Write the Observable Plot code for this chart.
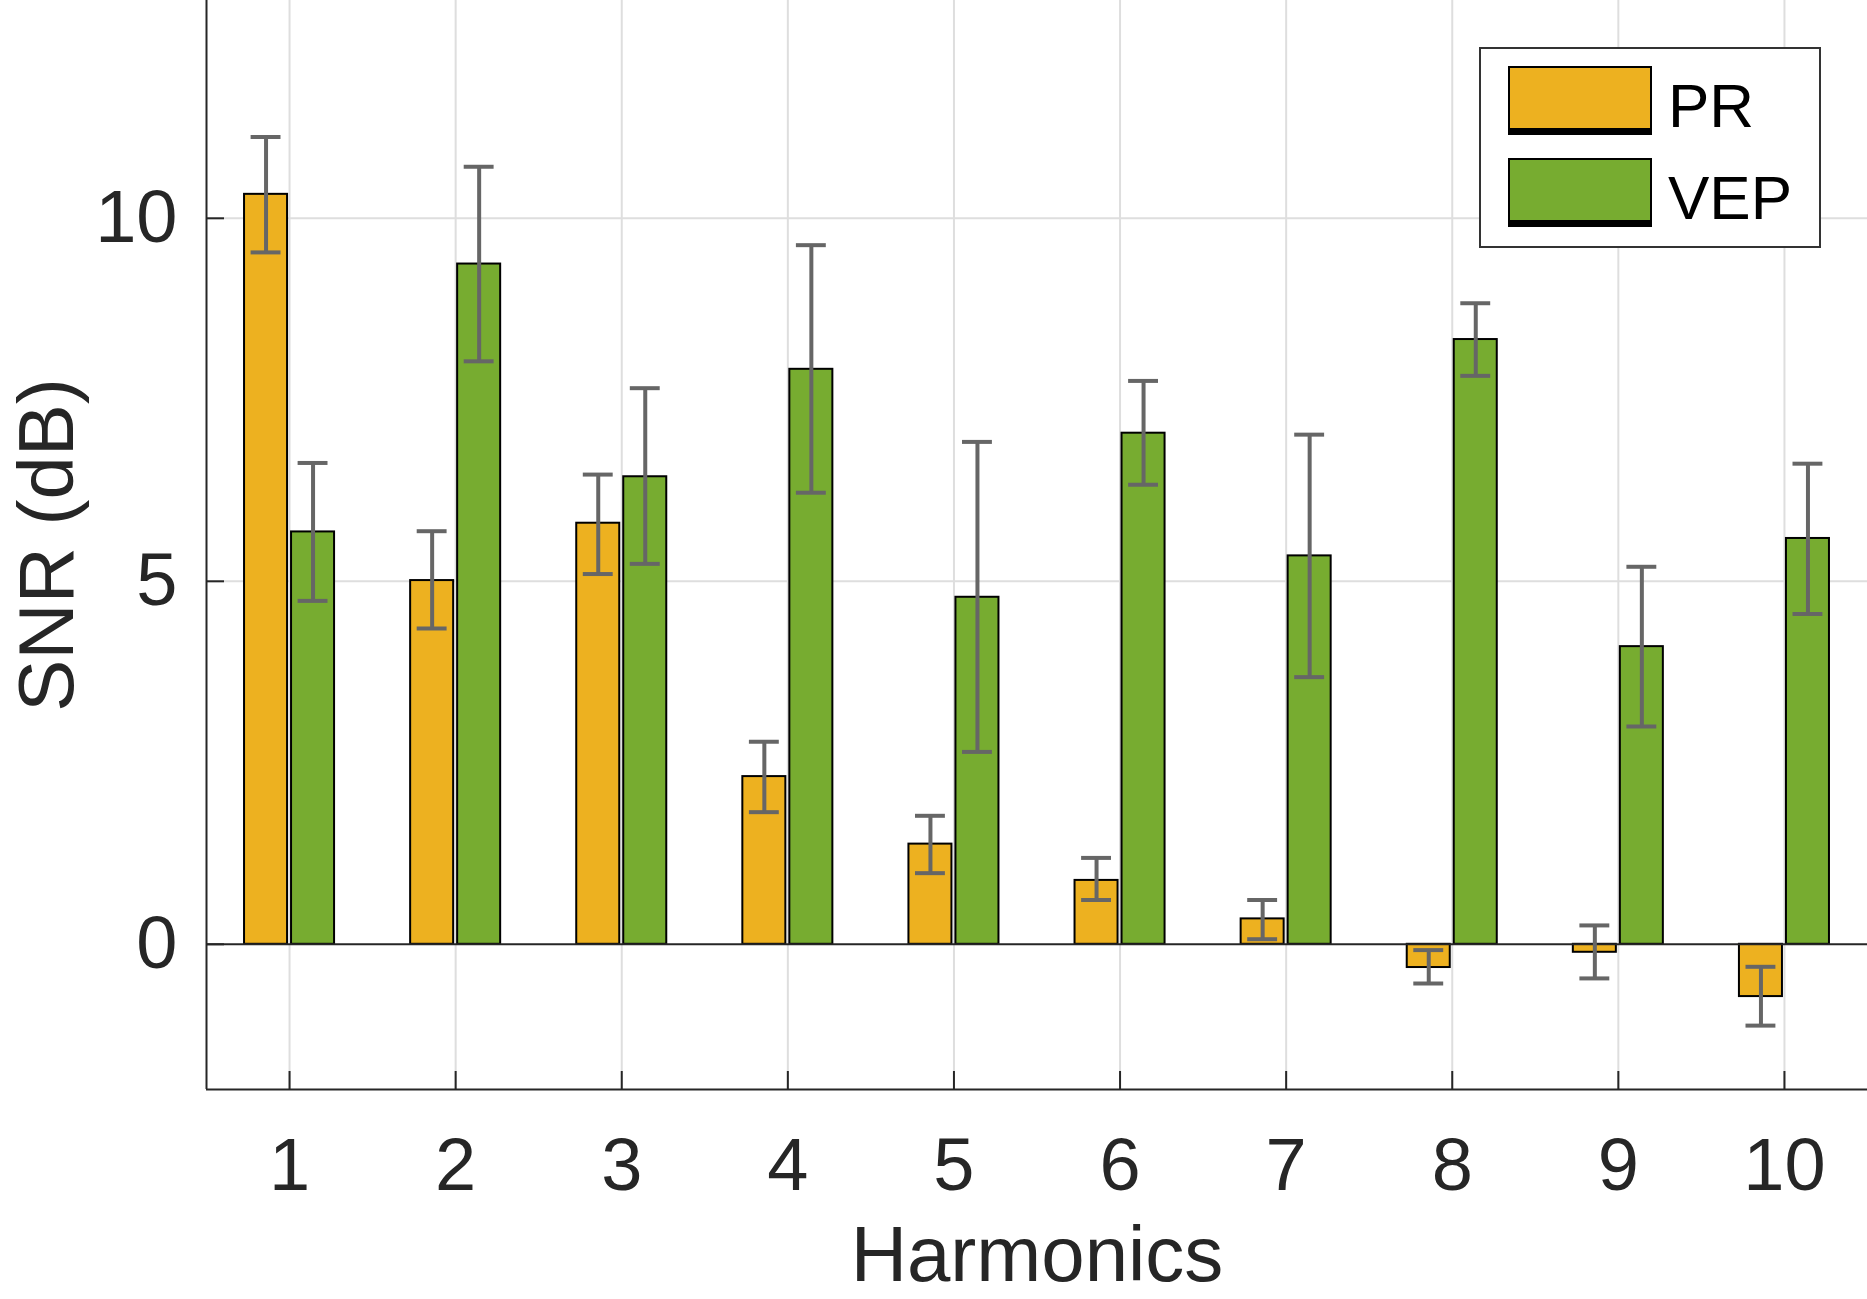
<!DOCTYPE html>
<html>
<head>
<meta charset="utf-8">
<script src="https://cdn.jsdelivr.net/npm/d3@7"></script>
<script src="https://cdn.jsdelivr.net/npm/@observablehq/plot@0.6"></script>
<style>
  html, body { margin: 0; padding: 0; background: #fff; }
  #wrap { position: relative; width: 1867px; height: 1299px; overflow: hidden;
          font-family: "Liberation Sans", Arial, Helvetica, sans-serif; }
  #legend { position: absolute; left: 1479px; top: 47px; }
</style>
</head>
<body>
<div id="wrap"></div>
<script>
// ---- data ----
const harmonics = [1, 2, 3, 4, 5, 6, 7, 8, 9, 10];
const seriesNames = ["PR", "VEP"];
const seriesColors = ["#EDB120", "#77AC30"];
const prMean = [10.33, 5.01, 5.80, 2.31, 1.38, 0.88, 0.35, -0.32, -0.11, -0.72];
const prLow  = [9.53, 4.35, 5.10, 1.82, 0.98, 0.61, 0.07, -0.54, -0.47, -1.12];
const prHigh = [11.12, 5.69, 6.47, 2.79, 1.77, 1.19, 0.61, -0.08, 0.26, -0.31];
const vepMean = [5.68, 9.37, 6.44, 7.92, 4.78, 7.04, 5.35, 8.33, 4.10, 5.59];
const vepLow  = [4.73, 8.03, 5.24, 6.22, 2.65, 6.33, 3.68, 7.83, 3.00, 4.55];
const vepHigh = [6.63, 10.71, 7.66, 9.63, 6.92, 7.76, 7.02, 8.83, 5.20, 6.62];
const yTicks = [0, 5, 10];
const yGrid = [5, 10];
const xLabel = "Harmonics";
const yLabel = "SNR (dB)";

// ---- table built from arrays ----
const rows = [];
harmonics.forEach((h, i) => {
  rows.push({h, series: "PR", mean: prMean[i], lo: prLow[i], hi: prHigh[i], side: -1});
  rows.push({h, series: "VEP", mean: vepMean[i], lo: vepLow[i], hi: vepHigh[i], side: 1});
});
const gap = 0.012, bw = 0.259, cap = 0.09;
const left = d => d.side < 0 ? d.h - gap - bw : d.h + gap;
const right = d => d.side < 0 ? d.h - gap : d.h + gap + bw;
const center = d => (left(d) + right(d)) / 2;

const ink = "#262626";
const errColor = "#666666";
const gridColor = "#dedede";
const fmt = d3.format("d");

const chart = Plot.plot({
  width: 1867,
  height: 1299,
  marginLeft: 206,
  marginRight: 0,
  marginTop: 0,
  marginBottom: 210,
  style: {fontFamily: "'Liberation Sans', Arial, Helvetica, sans-serif", background: "#fff", overflow: "visible"},
  x: {domain: [0.5, 10.5]},
  y: {domain: [-2, 13]},
  color: {domain: seriesNames, range: seriesColors},
  marks: [
    Plot.gridX(harmonics, {stroke: gridColor, strokeOpacity: 1, strokeWidth: 2}),
    Plot.gridY(yGrid, {stroke: gridColor, strokeOpacity: 1, strokeWidth: 2}),
    Plot.rectY(rows, {x1: left, x2: right, y1: 0, y2: "mean", fill: "series", stroke: "#000", strokeWidth: 2}),
    Plot.ruleY([0], {stroke: ink, strokeWidth: 2}),
    Plot.ruleX(rows, {x: center, y1: "lo", y2: "hi", stroke: errColor, strokeWidth: 4}),
    Plot.ruleY(rows, {y: "lo", x1: d => center(d) - cap, x2: d => center(d) + cap, stroke: errColor, strokeWidth: 4}),
    Plot.ruleY(rows, {y: "hi", x1: d => center(d) - cap, x2: d => center(d) + cap, stroke: errColor, strokeWidth: 4}),
    Plot.ruleX([0.5], {stroke: ink, strokeWidth: 2}),
    Plot.ruleY([-2], {stroke: ink, strokeWidth: 2}),
    Plot.axisY(yTicks, {tickSize: -18, tickPadding: 47, fontSize: 74, color: ink, strokeWidth: 2, label: null, tickFormat: fmt}),
    Plot.axisX(harmonics, {tickSize: -18, tickPadding: 66, fontSize: 74, color: ink, strokeWidth: 2, label: null, tickFormat: fmt}),
    Plot.text([xLabel], {frameAnchor: "bottom", dy: 136, lineAnchor: "top", fontSize: 78, fill: ink}),
    Plot.text([yLabel], {frameAnchor: "left", dx: -158, rotate: -90, lineAnchor: "middle", textAnchor: "middle", fontSize: 78, fill: ink})
  ]
});

const wrap = document.getElementById("wrap");
wrap.appendChild(chart);

// ---- legend (inside plot area, top right) ----
const lg = d3.select(wrap).append("svg")
  .attr("id", "legend")
  .attr("width", 342).attr("height", 201);
lg.append("rect").attr("x", 1).attr("y", 1).attr("width", 340).attr("height", 199)
  .attr("fill", "#fff").attr("stroke", "#333").attr("stroke-width", 2);
seriesNames.forEach((name, i) => {
  const top = 19 + i * 92;
  lg.append("rect").attr("x", 30).attr("y", top + 1).attr("width", 142).attr("height", 62)
    .attr("fill", seriesColors[i]).attr("stroke", "#000").attr("stroke-width", 2);
  lg.append("rect").attr("x", 29).attr("y", top + 63).attr("width", 144).attr("height", 6).attr("fill", "#000");
  lg.append("text").attr("x", 189).attr("y", top + 61)
    .attr("font-size", 62).attr("fill", "#000")
    .attr("font-family", "'Liberation Sans', Arial, Helvetica, sans-serif")
    .text(name);
});
</script>
</body>
</html>
